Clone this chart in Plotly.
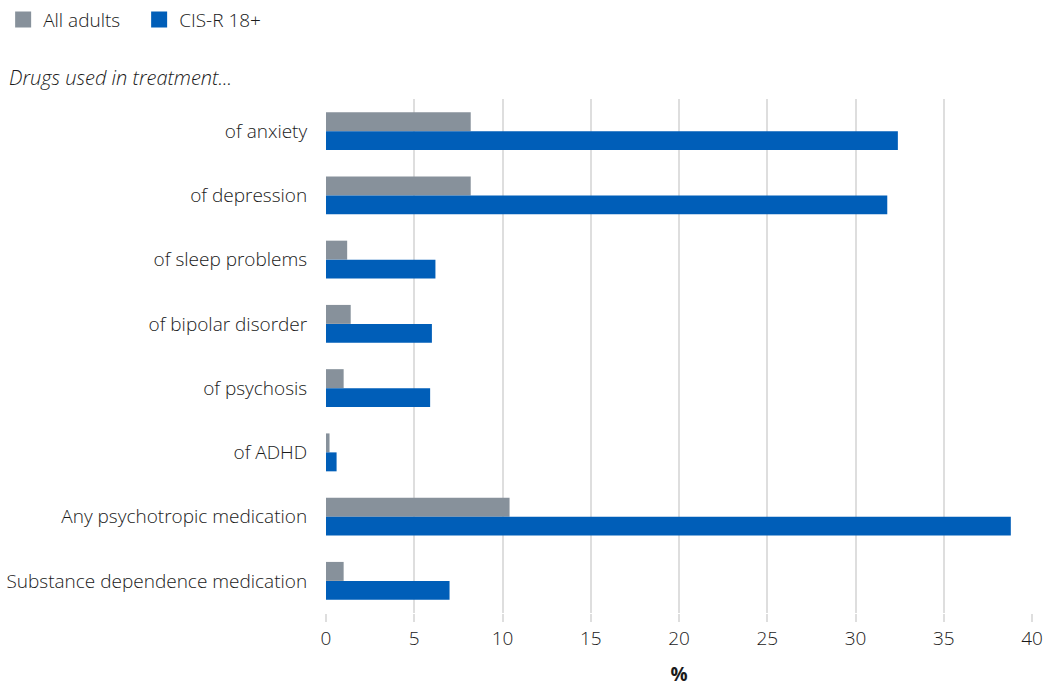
import plotly.graph_objects as go

categories = ["of anxiety", "of depression", "of sleep problems", "of bipolar disorder",
              "of psychosis", "of ADHD", "Any psychotropic medication",
              "Substance dependence medication"]
all_adults = [8.2, 8.2, 1.2, 1.4, 1.0, 0.2, 10.4, 1.0]
cisr_18 = [32.4, 31.8, 6.2, 6.0, 5.9, 0.6, 38.8, 7.0]
series_names = ["All adults", "CIS-R 18+"]
x_ticks = [0, 5, 10, 15, 20, 25, 30, 35, 40]

FONT = "Open Sans"
GREY = "#87919b"
BLUE = "#005eb8"
TXT = "#1a1a1a"

fig = go.Figure()
fig.add_trace(go.Bar(y=categories, x=all_adults, name=series_names[0], orientation="h",
                     marker=dict(color=GREY, line=dict(width=0)), showlegend=False))
fig.add_trace(go.Bar(y=categories, x=cisr_18, name=series_names[1], orientation="h",
                     marker=dict(color=BLUE, line=dict(width=0)), showlegend=False))
for nm, col in zip(series_names, [GREY, BLUE]):
    fig.add_trace(go.Scatter(x=[None], y=[None], mode="markers", name=nm,
                             marker=dict(symbol="square", size=19, color=col)))

fig.update_layout(
    width=1046, height=687,
    margin=dict(l=326, r=14, t=99, b=74),
    plot_bgcolor="white", paper_bgcolor="white",
    barmode="group", bargap=0.41, bargroupgap=0,
    font=dict(family=FONT, size=19, color=TXT, weight=300),
    legend=dict(orientation="h", xref="container", yref="container", x=0.003, y=0.999,
                xanchor="left", yanchor="top", font=dict(size=19, family=FONT, weight=300, color=TXT),
                itemsizing="trace", itemwidth=30, tracegroupgap=0, entrywidth=91,
                bgcolor="rgba(0,0,0,0)"),
    xaxis=dict(range=[0, 40], tickvals=x_ticks, showgrid=True, gridcolor="#dedede", gridwidth=2,
               zeroline=False, ticks="outside", ticklen=8, tickcolor="#dedede", tickwidth=2,
               showline=False, automargin=False,
               tickfont=dict(size=19, family=FONT, weight=300, color=TXT),
               title=dict(text="<b>%</b>", font=dict(size=19, family=FONT, color=TXT), standoff=18)),
    yaxis=dict(autorange="reversed", showgrid=False, ticks="outside", ticklen=14,
               tickcolor="rgba(0,0,0,0)", showline=False, automargin=False,
               tickfont=dict(size=19, family=FONT, weight=300, color=TXT)),
    annotations=[dict(text="<i>Drugs used in treatment...</i>", xref="paper", yref="paper",
                      x=-0.452, y=1.041, xanchor="left", yanchor="middle", showarrow=False,
                      font=dict(size=20, family=FONT, weight=300, color=TXT))],
)

fig.write_html("out.html", config={"displayModeBar": False},
               post_script="document.body.style.margin='0px';document.body.style.overflow='hidden';")
